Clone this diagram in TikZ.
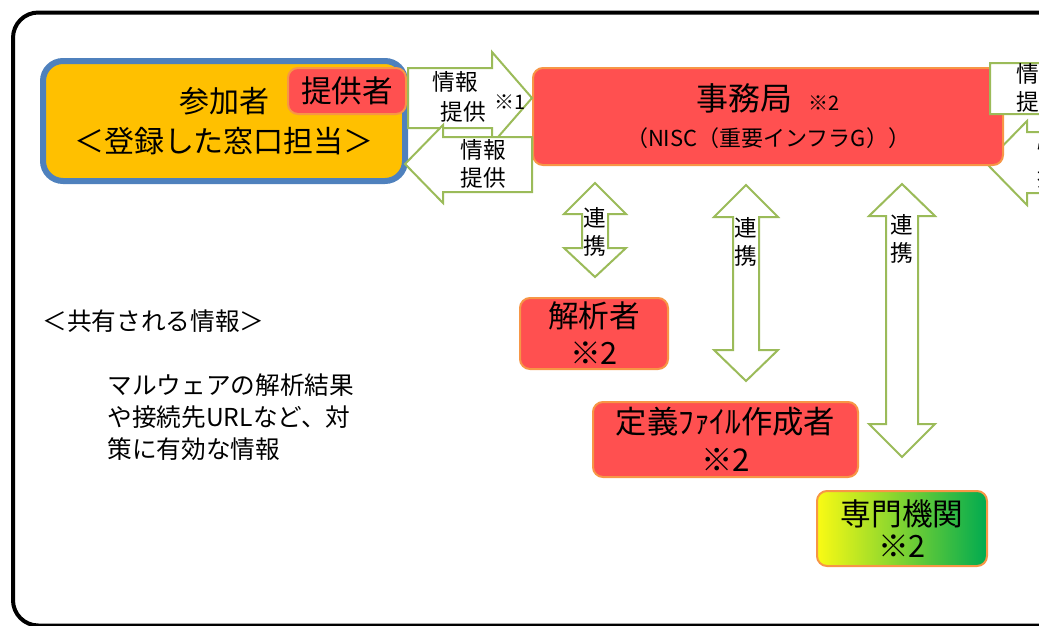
\documentclass[tikz,border=0pt]{standalone}
\usepackage{fontspec}
\setmainfont{Noto Sans CJK JP}

\definecolor{boxred}{RGB}{255,80,80}
\definecolor{boxorange}{RGB}{247,150,70}
\definecolor{sankaorange}{RGB}{255,192,0}
\definecolor{sankablue}{RGB}{79,129,189}
\definecolor{arrowgreen}{RGB}{155,187,89}
\definecolor{senmonyellow}{RGB}{250,250,20}
\definecolor{senmonblue}{RGB}{185,205,232}
\definecolor{senmongreen}{RGB}{0,170,80}

\tikzset{every picture/.style={line width=0.75pt}}
\tikzset{
  redbox/.style={draw=boxorange, fill=boxred, line width=1.5, rounded corners=7.5pt, align=center, inner sep=0pt},
  blockarrow/.style={draw=arrowgreen, fill=white, line width=1.5, line join=miter},
  arrowtext/.style={font=\fontsize{17}{21}\selectfont, align=center, inner sep=0pt},
  infotext/.style={font=\fontsize{18.5}{24}\selectfont, inner sep=0pt},
}

\begin{document}
\begin{tikzpicture}[x=0.75pt,y=0.75pt,yscale=-1,xscale=1]
	\clip (0,0) rectangle (1039,625);

	%Shape: Rounded Frame
	\draw [line width=3, rounded corners=19pt] (13,12.5) rectangle (1100,625.5) ;

	%Shape: Participant
	\node (sanka) [draw=sankablue, fill=sankaorange, line width=4.5, rounded corners=15pt, align=center, inner sep=0pt,
		minimum width=271.5pt, minimum height=90pt, font=\fontsize{22.5}{30}\selectfont] at (224,121)
		{参加者\\＜登録した窓口担当＞};
	%Shape: Provider tag
	\node (teikyosha) [redbox, minimum width=88.5pt, minimum height=34.5pt, font=\fontsize{23}{28}\selectfont] at (347,91) {提供者};

	%Shape: Left Arrow (right side, under the box)
	\draw [blockarrow] (1120,132) -- (1027,132) -- (1027,121) -- (986,163) -- (1027,205) -- (1027,193) -- (1120,193) -- cycle ;

	%Shape: Secretariat
	\node (jimukyoku) [redbox, minimum width=352.5pt, minimum height=72.75pt, font=\fontsize{24}{26}\selectfont] at (768,116.5)
		{事務局\hspace{12pt}{\fontsize{15}{15}\selectfont ※2}\\[1pt]{\fontsize{16.5}{16.5}\selectfont （NISC（重要インフラG））}};

	%Shape: Right Arrow
	\draw [blockarrow] (408,68) -- (492,68) -- (492,52) -- (532,98) -- (492,144) -- (492,128) -- (408,128) -- cycle ;
	%Shape: Left Arrow
	\draw [blockarrow] (532,137) -- (443,137) -- (443,125) -- (405,164) -- (443,203) -- (443,192) -- (532,192) -- cycle ;
	%Shape: Right Arrow (right side)
	\draw [blockarrow] (990,63) -- (1080,63) -- (1080,47) -- (1120,88) -- (1080,130) -- (1080,114) -- (990,114) -- cycle ;

	%Shape: Up Down Arrows
	\draw [blockarrow] (595,183) -- (626,214) -- (608,214) -- (608,248) -- (626,248) -- (595,277) -- (564,248) -- (582,248) -- (582,214) -- (564,214) -- cycle ;
	\draw [blockarrow] (746,185) -- (778,217) -- (759,217) -- (759,350) -- (778,350) -- (746,381) -- (714,350) -- (733,350) -- (733,217) -- (714,217) -- cycle ;
	\draw [blockarrow] (902,184) -- (935,216) -- (918,216) -- (918,424) -- (935,424) -- (902,457) -- (869,424) -- (886,424) -- (886,216) -- (869,216) -- cycle ;

	%Shape: Analyst, definition file maker, expert
	\node (kaisekisha) [redbox, minimum width=111pt, minimum height=53.25pt, font=\fontsize{23}{27.75}\selectfont] at (594,333.5) {解析者\\※2};
	\node (teigi) [redbox, minimum width=198.75pt, minimum height=56.25pt, font=\fontsize{23.5}{28.5}\selectfont] at (725.5,439.5) {定義ﾌｧｲﾙ作成者\\※2};
	\node (senmon) [draw=boxorange, line width=1.5, rounded corners=7.5pt, align=center, inner sep=0pt,
		left color=senmonyellow, middle color=senmonblue, right color=senmongreen,
		minimum width=127.5pt, minimum height=56.25pt, font=\fontsize{23}{24}\selectfont] at (902,528.5) {専門機関\\※2};

	% Text Node
	\node (teikyoA) [arrowtext] at (455,82) {情報};
	\node (teikyoB) [arrowtext] at (463,112) {提供};
	\node (kome1) [arrowtext, font=\fontsize{15}{15}\selectfont] at (510,102) {※1};
	% Text Node
	\node (teikyoC) [arrowtext] at (483,164) {情報\\提供};
	% Text Node
	\node (teikyoD) [arrowtext] at (1039,87.5) {情報\\提供};
	% Text Node
	\node (teikyoE) [arrowtext] at (1060,164) {情報\\提供};
	% Text Node
	\node (renkeiA) [arrowtext] at (595,232) {連\\携};
	% Text Node
	\node (renkeiB) [arrowtext] at (746,242) {連\\携};
	% Text Node
	\node (renkeiC) [arrowtext] at (902,238.5) {連\\携};

	% Text Node
	\node (kyoyu) [infotext, anchor=west] at (42,321) {＜共有される情報＞};
	% Text Node
	\node (naiyo) [infotext, anchor=west, align=left] at (107,417) {マルウェアの解析結果\\や接続先URLなど、対\\策に有効な情報};

\end{tikzpicture}
\end{document}
